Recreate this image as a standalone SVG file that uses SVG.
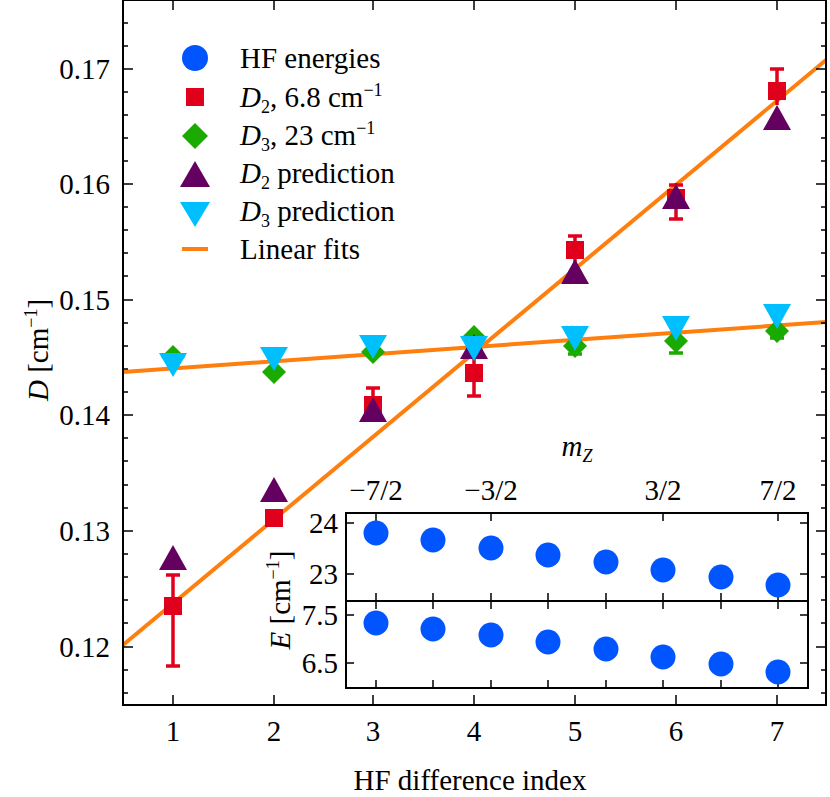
<svg xmlns="http://www.w3.org/2000/svg" width="830" height="797" viewBox="0 0 830 797" font-family="'Liberation Serif', 'Times New Roman', 'DejaVu Serif', serif">
<style>
text{font-family:'Liberation Serif','Times New Roman','DejaVu Serif',serif;font-size:29px;fill:#000}
.ax{fill:none;stroke:#000;stroke-width:2}
.tk{stroke:#000;stroke-width:1.5}
.fit{stroke:#ff7f0e;stroke-width:4}
.sq{fill:#e0001b}
.eb{stroke:#e0001b;stroke-width:3.5}
.ge{stroke:#1aaa00;stroke-width:3.5}
.dm{fill:#1aaa00}
.tu{fill:#630060}
.td{fill:#00bfff}
.ci{fill:#0055ff}
</style>
<rect width="830" height="797" fill="#fff"/>
<g id="connectors">
<line class="fit" x1="123" y1="645" x2="826" y2="60"/>
<line class="fit" x1="123" y1="372" x2="826" y2="322"/>
</g>
<g id="d2">
<g class="eb">
<line x1="173" y1="575" x2="173" y2="666"/><line x1="166" y1="575" x2="180" y2="575"/><line x1="166" y1="666" x2="180" y2="666"/>
<line x1="373" y1="388" x2="373" y2="420"/><line x1="366" y1="388" x2="380" y2="388"/>
<line x1="474" y1="357" x2="474" y2="396"/><line x1="467" y1="396" x2="481" y2="396"/>
<line x1="575" y1="236" x2="575" y2="265"/><line x1="568" y1="236" x2="582" y2="236"/>
<line x1="676" y1="183" x2="676" y2="219"/><line x1="669" y1="185" x2="683" y2="185"/><line x1="669" y1="219" x2="683" y2="219"/>
<line x1="777" y1="69" x2="777" y2="105"/><line x1="770" y1="69" x2="784" y2="69"/>
</g>
<rect class="sq" x="164" y="597" width="18" height="18"/>
<rect class="sq" x="265" y="509" width="18" height="18"/>
<rect class="sq" x="364" y="396" width="18" height="18"/>
<rect class="sq" x="465" y="364" width="18" height="18"/>
<rect class="sq" x="566" y="241" width="18" height="18"/>
<rect class="sq" x="667" y="189" width="18" height="18"/>
<rect class="sq" x="768" y="82" width="18" height="18"/>
</g>
<g id="d3">
<g class="ge">
<line x1="575" y1="346" x2="575" y2="354"/><line x1="568" y1="354" x2="582" y2="354"/>
<line x1="676" y1="341" x2="676" y2="353"/><line x1="669" y1="353" x2="683" y2="353"/>
<line x1="777" y1="328" x2="777" y2="338"/><line x1="770" y1="338" x2="784" y2="338"/>
</g>
<polygon class="dm" points="173,345 185,357 173,369 161,357"/>
<polygon class="dm" points="274,360 286,372 274,384 262,372"/>
<polygon class="dm" points="373,340 385,352 373,364 361,352"/>
<polygon class="dm" points="474,325 486,337 474,349 462,337"/>
<polygon class="dm" points="575,334 587,346 575,358 563,346"/>
<polygon class="dm" points="676,329 688,341 676,353 664,341"/>
<polygon class="dm" points="777,319 789,331 777,343 765,331"/>
</g>
<g id="d2pred">
<polygon class="tu" points="173,545 187,570 159,570"/>
<polygon class="tu" points="274,477 288,502 260,502"/>
<polygon class="tu" points="373,397 387,422 359,422"/>
<polygon class="tu" points="474,334 488,359 460,359"/>
<polygon class="tu" points="575,259 589,284 561,284"/>
<polygon class="tu" points="676,184 690,209 662,209"/>
<polygon class="tu" points="777,105 791,130 763,130"/>
</g>
<g id="d3pred">
<polygon class="td" points="159,353 187,353 173,377"/>
<polygon class="td" points="260,347 288,347 274,371"/>
<polygon class="td" points="359,335 387,335 373,359"/>
<polygon class="td" points="460,336 488,336 474,361"/>
<polygon class="td" points="561,326 589,326 575,351"/>
<polygon class="td" points="662,316 690,316 676,341"/>
<polygon class="td" points="763,304 791,304 777,329"/>
</g>
<g id="main-axes">
<rect class="ax" x="123" y="0" width="703" height="705"/>
<g class="tk">
<path d="M173 705v-10M274 705v-10M373 705v-10M474 705v-10M575 705v-10M676 705v-10M777 705v-10M173 0v10M274 0v10M373 0v10M474 0v10M575 0v10M676 0v10M777 0v10"/>
<path d="M123 69h10M123 184h10M123 300h10M123 415h10M123 531h10M123 647h10M826 69h-10M826 184h-10M826 300h-10M826 415h-10M826 531h-10M826 647h-10"/>
<path d="M123 23h5M123 46h5M123 92h5M123 115h5M123 138h5M123 161h5M123 207h5M123 230h5M123 253h5M123 276h5M123 323h5M123 346h5M123 369h5M123 392h5M123 438h5M123 461h5M123 485h5M123 508h5M123 554h5M123 577h5M123 600h5M123 623h5M123 670h5M123 693h5"/>
<path d="M826 23h-5M826 46h-5M826 92h-5M826 115h-5M826 138h-5M826 161h-5M826 207h-5M826 230h-5M826 253h-5M826 276h-5M826 323h-5M826 346h-5M826 369h-5M826 392h-5M826 438h-5M826 461h-5M826 485h-5M826 508h-5M826 554h-5M826 577h-5M826 600h-5M826 623h-5M826 670h-5M826 693h-5"/>
</g>
<g text-anchor="end">
<text x="110" y="79">0.17</text><text x="110" y="194">0.16</text><text x="110" y="310">0.15</text><text x="110" y="425">0.14</text><text x="110" y="541">0.13</text><text x="110" y="657">0.12</text>
</g>
<g text-anchor="middle">
<text x="173" y="741">1</text><text x="274" y="741">2</text><text x="373" y="741">3</text><text x="474" y="741">4</text><text x="575" y="741">5</text><text x="676" y="741">6</text><text x="777" y="741">7</text>
<text x="470" y="790">HF difference index</text>
<text transform="translate(48,350) rotate(-90)"><tspan font-style="italic">D</tspan> [cm<tspan font-size="18" dy="-11">−1</tspan><tspan dy="11">]</tspan></text>
</g>
</g>
<g id="legend">
<circle class="ci" cx="195" cy="58" r="13"/>
<text x="240" y="68">HF energies</text>
<rect class="sq" x="186" y="88" width="18" height="18"/>
<text x="240" y="107"><tspan font-style="italic">D</tspan><tspan font-size="18" dy="6">2</tspan><tspan dy="-6">, 6.8 cm</tspan><tspan font-size="18" dy="-11">−1</tspan></text>
<polygon class="dm" points="195,123 208,136 195,149 182,136"/>
<text x="240" y="145"><tspan font-style="italic">D</tspan><tspan font-size="18" dy="6">3</tspan><tspan dy="-6">, 23 cm</tspan><tspan font-size="18" dy="-11">−1</tspan></text>
<polygon class="tu" points="195,161 210,187 180,187"/>
<text x="240" y="183"><tspan font-style="italic">D</tspan><tspan font-size="18" dy="6">2</tspan><tspan dy="-6"> prediction</tspan></text>
<polygon class="td" points="180,202 210,202 195,227"/>
<text x="240" y="221"><tspan font-style="italic">D</tspan><tspan font-size="18" dy="6">3</tspan><tspan dy="-6"> prediction</tspan></text>
<line class="fit" x1="182" y1="249" x2="208" y2="249"/>
<text x="240" y="259">Linear fits</text>
</g>
<g id="inset">
<rect x="346" y="513" width="462" height="175" fill="#fff" stroke="#000" stroke-width="2"/>
<line x1="346" y1="601" x2="808" y2="601" stroke="#000" stroke-width="2"/>
<g class="tk">
<path d="M376 513v8M491 513v8M663 513v8M778 513v8M376 601v-8M433 601v-8M491 601v-8M548 601v-8M606 601v-8M663 601v-8M721 601v-8M778 601v-8M376 601v8M433 601v8M491 601v8M548 601v8M606 601v8M663 601v8M721 601v8M778 601v8M376 688v-8M433 688v-8M491 688v-8M548 688v-8M606 688v-8M663 688v-8M721 688v-8M778 688v-8"/>
<path d="M346 523h8M346 574h8M808 523h-8M808 574h-8M346 615h8M346 663h8M808 615h-8M808 663h-8"/>
</g>
<g class="ci">
<circle cx="376" cy="533" r="12.5"/><circle cx="433" cy="540" r="12.5"/><circle cx="491" cy="548" r="12.5"/><circle cx="548" cy="555" r="12.5"/><circle cx="606" cy="562" r="12.5"/><circle cx="663" cy="570" r="12.5"/><circle cx="721" cy="577" r="12.5"/><circle cx="778" cy="585" r="12.5"/>
<circle cx="376" cy="623" r="12.5"/><circle cx="433" cy="629" r="12.5"/><circle cx="491" cy="635" r="12.5"/><circle cx="548" cy="642" r="12.5"/><circle cx="606" cy="649" r="12.5"/><circle cx="663" cy="657" r="12.5"/><circle cx="721" cy="664" r="12.5"/><circle cx="778" cy="672" r="12.5"/>
</g>
<g text-anchor="end">
<text x="338" y="533">24</text><text x="338" y="584">23</text><text x="338" y="625">7.5</text><text x="338" y="673">6.5</text>
</g>
<g text-anchor="middle">
<text x="376" y="500">−7/2</text><text x="491" y="500">−3/2</text><text x="663" y="500">3/2</text><text x="778" y="500">7/2</text>
<text x="577" y="456" font-style="italic">m<tspan font-size="18" dy="6">Z</tspan></text>
<text transform="translate(290,600) rotate(-90)"><tspan font-style="italic">E</tspan> [cm<tspan font-size="18" dy="-11">−1</tspan><tspan dy="11">]</tspan></text>
</g>
</g>
</svg>
